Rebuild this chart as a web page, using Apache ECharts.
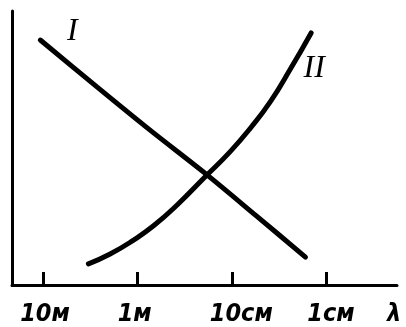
<!DOCTYPE html>
<html>
<head>
<meta charset="utf-8">
<script src="https://cdn.jsdelivr.net/npm/echarts@6/dist/echarts.min.js"></script>
<style>
	html, body { margin: 0; padding: 0; background: #fff; }
	#chart { width: 406px; height: 327px; }
</style>
</head>
<body>
<div id="chart"></div>
<script>
// x is in decades: 0 = 10м, 1 = 1м, 2 = 10см, 3 = 1см
const tickPos = [0, 1, 2, 3];
const labelPos = [0.02, 0.97, 2.1, 3.05, 3.72];
const labelText = ['10м', '1м', '10см', '1см', 'λ'];

const curveI = [
	[-0.03, 89.4],
	[0.57, 72.3],
	[1.13, 56.6],
	[1.74, 40.1],
	[2.25, 25.5],
	[2.78, 10.2],
];
const curveII = [
	[0.48, 7.7],
	[0.71, 11.3],
	[0.95, 16.2],
	[1.17, 21.6],
	[1.42, 29.2],
	[1.72, 39.6],
	[1.98, 48.6],
	[2.2, 57.4],
	[2.41, 67.0],
	[2.62, 78.8],
	[2.84, 92.0],
];

let myChart = echarts.init(document.getElementById('chart'), null, { renderer: 'canvas' });

const numFont = {
	fontFamily: 'Liberation Sans Narrow, DejaVu Sans Condensed, sans-serif',
	fontStyle: 'italic',
	fontWeight: 'bold',
	fontSize: 25,
	color: '#000',
};
const romanFont = {
	fontFamily: 'Liberation Serif, DejaVu Serif, serif',
	fontStyle: 'italic',
	fontSize: 32,
	color: '#000',
};

const withLabel = (data, idx, text, offset) =>
	data.map((p, i) =>
		i === idx
			? {
					value: p,
					label: {
						show: true,
						formatter: text,
						position: 'inside',
						offset: offset,
						...romanFont,
					},
			  }
			: p
	);

let option = {
	animation: false,
	backgroundColor: '#fff',
	grid: { left: 12, right: 9, top: 11, bottom: 42 },
	xAxis: {
		type: 'value',
		min: -0.33,
		max: 3.75,
		splitLine: { show: false },
		axisLine: { show: true, onZero: false, lineStyle: { color: '#000', width: 3 } },
		axisTick: {
			show: true,
			inside: true,
			length: 13,
			customValues: tickPos,
			lineStyle: { color: '#000', width: 3 },
		},
		axisLabel: {
			show: true,
			margin: 17,
			hideOverlap: false,
			showMaxLabel: true,
			customValues: labelPos,
			formatter: (v) => labelText[labelPos.indexOf(v)],
			...numFont,
		},
	},
	yAxis: {
		type: 'value',
		min: 0,
		max: 100,
		splitLine: { show: false },
		axisLine: { show: true, onZero: false, lineStyle: { color: '#000', width: 3 } },
		axisTick: { show: false },
		axisLabel: { show: false },
	},
	series: [
		{
			name: 'I',
			type: 'line',
			smooth: 0.3,
			showSymbol: true,
			symbol: 'circle',
			symbolSize: 0,
			lineStyle: { color: '#000', width: 5, cap: 'round' },
			data: withLabel(curveI, 0, 'I', [32, -8]),
		},
		{
			name: 'II',
			type: 'line',
			smooth: 0.5,
			showSymbol: true,
			symbol: 'circle',
			symbolSize: 0,
			lineStyle: { color: '#000', width: 5, cap: 'round' },
			data: withLabel(curveII, curveII.length - 1, 'II', [3, 36]),
		},
	],
};

myChart.setOption(option, true);
</script>
</body>
</html>
